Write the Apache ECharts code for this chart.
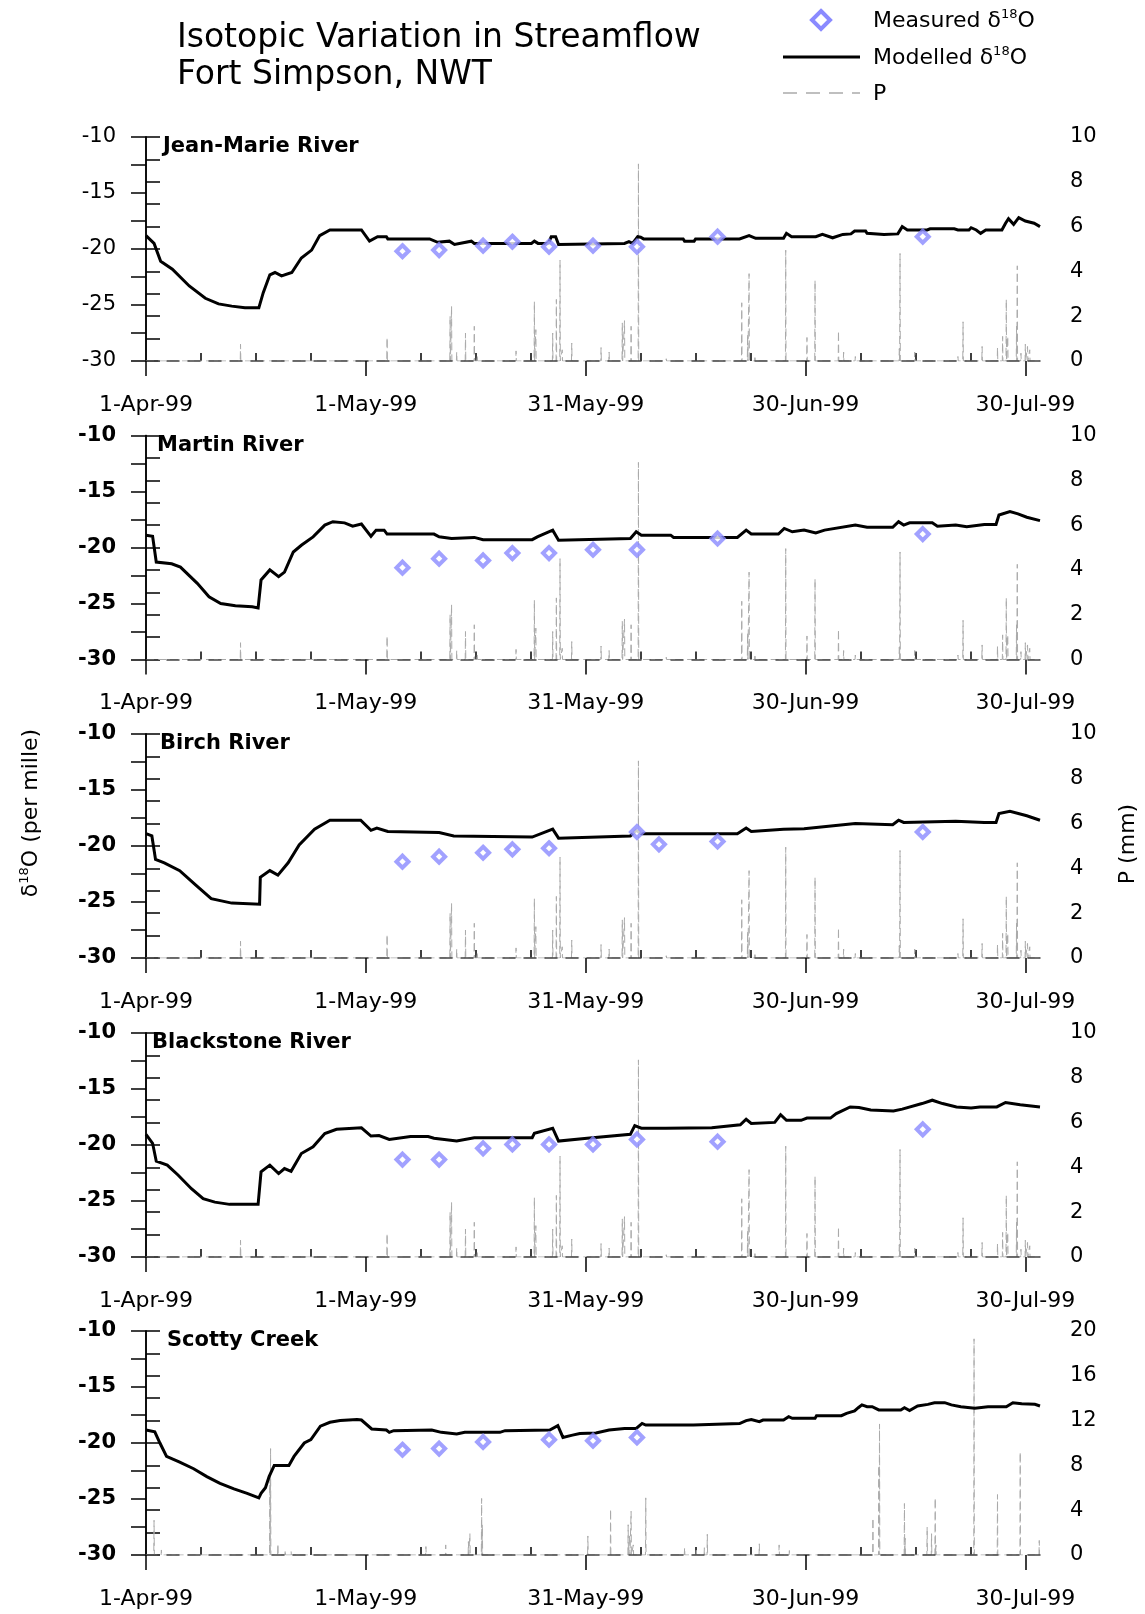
<!DOCTYPE html>
<html>
<head>
<meta charset="utf-8">
<title>Isotopic Variation in Streamflow - Fort Simpson, NWT</title>
<style>
  html, body { margin: 0; padding: 0; background: #ffffff; }
  #chart { width: 1145px; height: 1614px; }
</style>
<script src="https://cdn.jsdelivr.net/npm/echarts@6/dist/echarts.min.js"></script>
</head>
<body>
<div id="chart"></div>
<script>
// ---------- data ----------
// x values are days since 1-Apr-1999
const xMax = 122;
const tickDays = [0, 30, 60, 90, 120];
const tickLabels = ['1-Apr-99', '1-May-99', '31-May-99', '30-Jun-99', '30-Jul-99'];
const minorTickDays = [7.5, 15, 22.5, 37.5, 45, 52.5, 67.5, 75, 82.5, 97.5, 105, 112.5];

const riverNames = ['Jean-Marie River', 'Martin River', 'Birch River', 'Blackstone River', 'Scotty Creek'];

// modelled d18O, [day, per mille]
const jeanMarieModel = [[0,-18.8],[1.1,-19.5],[2.0,-21.1],[3.6,-21.8],[5.9,-23.3],[8.1,-24.4],[9.9,-24.9],[11.7,-25.1],[13.5,-25.25],[15.4,-25.25],[16.0,-23.9],[16.9,-22.3],[17.6,-22.1],[18.5,-22.4],[19.9,-22.1],[21.2,-20.8],[22.6,-20.1],[23.7,-18.8],[25.1,-18.3],[29.4,-18.3],[30.5,-19.3],[31.6,-18.9],[32.8,-18.9],[33.0,-19.1],[38.7,-19.1],[39.8,-19.4],[41.4,-19.3],[42.1,-19.6],[44.4,-19.3],[44.8,-19.5],[52.6,-19.5],[53.0,-19.3],[53.5,-19.5],[54.9,-19.5],[55.3,-18.9],[55.9,-18.9],[56.3,-19.6],[65.3,-19.5],[65.9,-19.35],[66.4,-19.5],[67.1,-18.9],[67.5,-18.95],[67.9,-19.1],[73.3,-19.1],[73.5,-19.3],[74.8,-19.3],[75.0,-19.1],[81.0,-19.1],[82.3,-18.8],[83.2,-19.05],[87.0,-19.05],[87.4,-18.6],[88.1,-18.9],[91.4,-18.9],[92.3,-18.7],[93.7,-19.0],[95.1,-18.7],[96.2,-18.65],[96.7,-18.4],[98.2,-18.4],[98.4,-18.6],[100.7,-18.7],[102.6,-18.65],[103.2,-18.0],[103.9,-18.3],[106.6,-18.3],[107.0,-18.2],[110.3,-18.2],[110.8,-18.3],[112.3,-18.3],[112.6,-18.1],[113.3,-18.3],[113.9,-18.6],[114.6,-18.3],[116.8,-18.3],[117.3,-17.7],[117.7,-17.3],[118.4,-17.8],[119.1,-17.2],[120.0,-17.5],[121.2,-17.7],[122,-18.0]];
const martinModel = [[0,-18.9],[0.9,-19.0],[1.4,-21.3],[3.5,-21.45],[4.7,-21.75],[7.0,-23.2],[8.6,-24.4],[10.2,-25.0],[12.2,-25.2],[14.5,-25.3],[15.3,-25.4],[15.7,-22.9],[16.9,-22.0],[18.1,-22.6],[18.9,-22.2],[20.1,-20.4],[21.2,-19.8],[22.8,-19.05],[24.4,-18.0],[25.5,-17.7],[27.1,-17.8],[28.2,-18.1],[29.4,-17.9],[30.7,-19.0],[31.4,-18.45],[32.5,-18.45],[32.9,-18.8],[39.3,-18.8],[40.0,-19.05],[41.7,-19.2],[44.8,-19.1],[46.0,-19.3],[52.7,-19.3],[53.4,-19.05],[55.5,-18.45],[56.3,-19.35],[66.1,-19.2],[66.9,-18.6],[67.6,-18.9],[71.6,-18.9],[72.0,-19.1],[80.7,-19.1],[81.9,-18.45],[82.6,-18.8],[86.3,-18.8],[87.1,-18.3],[88.2,-18.6],[89.8,-18.45],[91.4,-18.7],[92.6,-18.45],[96.8,-18.0],[98.4,-18.2],[101.9,-18.2],[102.7,-17.7],[103.4,-18.0],[104.2,-17.8],[107.3,-17.8],[108.0,-18.1],[110.5,-18.0],[112.0,-18.15],[114.4,-17.95],[116.0,-17.95],[116.4,-17.1],[117.9,-16.8],[119.0,-17.0],[120.2,-17.3],[122,-17.6]];
const birchModel = [[0,-18.9],[0.8,-19.1],[1.3,-21.2],[2.5,-21.5],[4.6,-22.2],[6.8,-23.5],[8.9,-24.7],[11.7,-25.1],[15.5,-25.2],[15.6,-22.8],[16.9,-22.2],[18.0,-22.6],[19.4,-21.5],[20.9,-19.9],[23.0,-18.5],[25.1,-17.7],[29.3,-17.7],[30.7,-18.6],[31.5,-18.4],[33.0,-18.7],[40.0,-18.8],[42.0,-19.1],[52.7,-19.2],[55.5,-18.5],[56.3,-19.3],[66.1,-19.1],[66.9,-18.6],[67.6,-18.9],[80.7,-18.9],[81.9,-18.4],[82.6,-18.7],[87.0,-18.5],[89.8,-18.45],[96.8,-18.0],[101.9,-18.1],[102.7,-17.7],[103.4,-17.9],[110.5,-17.8],[114.4,-17.9],[116.0,-17.9],[116.4,-17.1],[117.9,-16.9],[120.2,-17.3],[122,-17.7]];
const blackstoneModel = [[0,-19.05],[0.9,-19.85],[1.4,-21.45],[2.9,-21.8],[4.4,-22.7],[6.2,-23.9],[7.8,-24.8],[9.4,-25.1],[11.4,-25.3],[15.3,-25.3],[15.7,-22.4],[16.9,-21.8],[18.1,-22.55],[18.9,-22.1],[19.8,-22.35],[21.2,-20.76],[22.8,-20.16],[24.4,-18.97],[26.0,-18.6],[29.4,-18.46],[30.7,-19.2],[31.8,-19.15],[33.2,-19.5],[36.1,-19.25],[38.5,-19.25],[39.3,-19.4],[42.4,-19.65],[44.8,-19.35],[52.7,-19.35],[53.0,-18.95],[55.5,-18.5],[56.3,-19.65],[60.2,-19.4],[66.1,-19.05],[66.7,-18.27],[67.6,-18.5],[70.9,-18.5],[77.2,-18.45],[81.1,-18.2],[81.9,-17.7],[82.6,-18.07],[85.8,-17.98],[86.6,-17.3],[87.4,-17.8],[89.4,-17.8],[90.2,-17.6],[93.4,-17.6],[94.2,-17.2],[96.1,-16.6],[97.3,-16.65],[98.9,-16.88],[102.0,-16.96],[103.2,-16.8],[105.9,-16.3],[107.3,-16.0],[108.7,-16.3],[110.6,-16.6],[112.6,-16.7],[113.8,-16.6],[116.1,-16.6],[117.3,-16.2],[119.3,-16.4],[122,-16.6]];
const scottyModel = [[0,-18.84],[1.2,-19.0],[1.9,-20.0],[2.8,-21.2],[4.6,-21.7],[6.5,-22.3],[8.3,-23.0],[10.1,-23.6],[12.0,-24.1],[13.8,-24.5],[15.4,-24.9],[15.7,-24.5],[16.3,-24.0],[16.8,-23.0],[17.5,-22.0],[19.5,-22.0],[20.2,-21.2],[21.6,-20.0],[22.5,-19.7],[23.8,-18.5],[25.1,-18.15],[26.5,-18.0],[28.8,-17.9],[29.4,-17.95],[30.8,-18.75],[32.8,-18.84],[33.2,-19.05],[33.8,-18.9],[39.0,-18.84],[40.3,-19.05],[42.4,-19.2],[43.5,-19.05],[48.3,-19.05],[49.0,-18.9],[55.1,-18.84],[56.2,-18.45],[56.9,-19.5],[58.2,-19.3],[59.2,-19.15],[61.4,-19.1],[63.2,-18.84],[65.3,-18.7],[66.9,-18.7],[67.7,-18.25],[68.2,-18.4],[74.7,-18.4],[74.9,-18.3],[81.0,-18.27],[81.9,-18.0],[82.6,-17.9],[83.7,-18.1],[84.2,-17.95],[87.0,-17.95],[87.7,-17.65],[88.2,-17.8],[91.3,-17.8],[91.5,-17.56],[94.9,-17.56],[95.6,-17.35],[96.7,-17.14],[97.2,-16.85],[97.7,-16.6],[98.4,-16.76],[99.1,-16.76],[100.0,-17.05],[103.0,-17.05],[103.5,-16.85],[104.2,-17.1],[105.3,-16.7],[106.7,-16.55],[107.6,-16.4],[109.0,-16.4],[109.9,-16.6],[111.2,-16.76],[113.1,-16.9],[114.9,-16.76],[117.4,-16.76],[118.3,-16.4],[119.5,-16.5],[121.3,-16.55],[122,-16.7]];

// measured d18O, [day, per mille]
const jeanMarieMeasured = [[35,-20.2],[40,-20.1],[46,-19.7],[50,-19.35],[55,-19.8],[61,-19.7],[67,-19.8],[78,-18.9],[106,-18.9]];
const martinMeasured = [[35,-21.8],[40,-21.0],[46,-21.15],[50,-20.5],[55,-20.5],[61,-20.2],[67,-20.2],[78,-19.2],[106,-18.8]];
const birchMeasured = [[35,-21.4],[40,-20.95],[46,-20.6],[50,-20.3],[55,-20.2],[67,-18.75],[70,-19.85],[78,-19.6],[106,-18.75]];
const blackstoneMeasured = [[35,-21.3],[40,-21.3],[46,-20.3],[50,-19.95],[55,-19.95],[61,-19.95],[67,-19.5],[78,-19.7],[106,-18.6]];
const scottyMeasured = [[35,-20.6],[40,-20.5],[46,-19.9],[55,-19.7],[61,-19.8],[67,-19.5]];

// precipitation events, [day, mm]
const fortSimpsonP = [[12.9,0.75],[32.9,1.05],[41.5,2.0],[41.7,2.45],[42.4,0.4],[43.6,1.25],[44.8,1.55],[45.2,0.25],[50.5,0.45],[53.0,2.65],[53.2,1.4],[55.5,1.25],[56.0,2.75],[56.5,4.5],[56.8,0.5],[58.1,0.8],[62.1,0.6],[63.2,0.4],[65.0,1.7],[65.3,1.8],[66.2,1.55],[67.2,8.8],[71.0,0.1],[81.3,2.6],[82.1,1.2],[82.3,3.9],[83.1,0.15],[87.3,4.95],[90.2,1.05],[91.3,3.6],[94.5,1.35],[95.2,0.4],[96.8,0.2],[102.8,0.55],[102.9,4.8],[104.9,0.4],[110.8,0.2],[111.5,1.75],[114.1,0.65],[116.2,0.6],[116.9,1.1],[117.4,2.75],[117.6,1.1],[118.8,1.55],[118.9,4.25],[119.4,0.35],[120.0,0.75],[120.3,0.65],[120.6,0.5]];
const scottyP = [[1.1,3.1],[2.1,0.45],[16.9,7.4],[17.0,9.5],[18.0,1.0],[19.0,0.45],[19.8,0.35],[38.2,0.75],[40.9,0.9],[42.3,0.15],[44.0,1.2],[44.2,1.9],[45.8,5.05],[45.9,2.7],[60.3,1.7],[62.5,0.15],[63.4,4.1],[65.8,2.7],[66.0,1.8],[66.2,3.9],[66.5,0.9],[68.2,5.1],[73.5,0.65],[75.1,0.6],[76.2,0.65],[76.6,1.85],[83.7,1.0],[86.4,0.9],[87.8,0.4],[99.2,3.3],[100.0,8.0],[100.1,11.7],[103.5,4.6],[103.6,1.5],[106.6,2.5],[107.2,1.9],[107.7,5.1],[107.8,0.9],[113.0,19.3],[116.2,5.4],[119.3,9.2],[121.9,1.3]];

// ---------- layout / style ----------
const FONT = 'DejaVu Sans';
const GRID_LEFT = 146, GRID_RIGHT = 105, GRID_H = 224;
const panelTops = [137, 435.5, 734, 1033, 1331];
const nameX = [163, 157, 160, 152, 167];
const MEAS_COLOR = '#8a8aff';
const P_COLOR = '#aaaaaa';

const panels = [
  { model: jeanMarieModel, measured: jeanMarieMeasured, precip: fortSimpsonP, pMax: 10, pStep: 1, pLabelEvery: 2, boldLeft: false },
  { model: martinModel, measured: martinMeasured, precip: fortSimpsonP, pMax: 10, pStep: 1, pLabelEvery: 2, boldLeft: true },
  { model: birchModel, measured: birchMeasured, precip: fortSimpsonP, pMax: 10, pStep: 1, pLabelEvery: 2, boldLeft: true },
  { model: blackstoneModel, measured: blackstoneMeasured, precip: fortSimpsonP, pMax: 10, pStep: 1, pLabelEvery: 2, boldLeft: true },
  { model: scottyModel, measured: scottyMeasured, precip: scottyP, pMax: 20, pStep: 2, pLabelEvery: 4, boldLeft: true }
];

// each rain event becomes a thin spike rising from the zero baseline
function spikeLine(events) {
  const pts = [[0, 0]];
  events.forEach(([d, v]) => { pts.push([d - 0.04, 0], [d, v], [d + 0.04, 0]); });
  pts.push([xMax, 0]);
  return pts;
}

const grid = [], xAxis = [], yAxis = [], series = [], graphic = [];

panels.forEach((p, i) => {
  grid.push({ left: GRID_LEFT, right: GRID_RIGHT, top: panelTops[i], height: GRID_H, containLabel: false });

  // major ticks with dates
  xAxis.push({
    type: 'value', gridIndex: i, min: 0, max: xMax, z: 3,
    axisLine: { show: true, onZero: false, lineStyle: { color: '#444', width: 1.5, type: [12, 9] } },
    axisTick: { show: true, length: 15, customValues: tickDays, lineStyle: { color: '#000', width: 1.5 } },
    axisLabel: {
      show: true, customValues: tickDays, margin: 33,
      color: '#000', fontFamily: FONT, fontSize: 22,
      formatter: v => { const k = tickDays.indexOf(v); return k >= 0 ? tickLabels[k] : ''; }
    },
    splitLine: { show: false }
  });
  // minor ticks
  xAxis.push({
    type: 'value', gridIndex: i, min: 0, max: xMax,
    axisLine: { show: false },
    axisTick: { show: true, length: 8, customValues: minorTickDays, lineStyle: { color: '#000', width: 1.5 } },
    axisLabel: { show: false },
    splitLine: { show: false }
  });

  yAxis.push({
    type: 'value', gridIndex: i, min: -30, max: -10, interval: 2.5, position: 'left',
    axisLine: { show: true, lineStyle: { color: '#000', width: 1.5 } },
    axisTick: { show: true, length: 15, lineStyle: { color: '#000', width: 1.5 } },
    axisLabel: {
      margin: 30, color: '#000', fontFamily: FONT, fontSize: 21,
      fontWeight: p.boldLeft ? 'bold' : 'normal',
      formatter: v => (v % 5 === 0 ? String(v) : '')
    },
    splitLine: { show: false }
  });
  yAxis.push({
    type: 'value', gridIndex: i, min: 0, max: p.pMax, interval: p.pStep, position: 'right',
    axisLine: { show: true, lineStyle: { color: '#000', width: 1.5 } },
    axisTick: { show: true, length: 14, lineStyle: { color: '#000', width: 1.5 } },
    axisLabel: {
      margin: 30, color: '#000', fontFamily: FONT, fontSize: 21,
      formatter: v => (v % p.pLabelEvery === 0 ? String(v) : '')
    },
    splitLine: { show: false }
  });

  series.push({
    name: 'P', type: 'line', xAxisIndex: 2 * i, yAxisIndex: 2 * i + 1,
    data: spikeLine(p.precip), symbol: 'none', z: 1, silent: true,
    lineStyle: { color: P_COLOR, width: 1, type: [8, 4] }
  });
  series.push({
    name: 'Modelled', type: 'line', xAxisIndex: 2 * i, yAxisIndex: 2 * i,
    data: p.model, symbol: 'none', z: 2,
    lineStyle: { color: '#000', width: 3, join: 'miter' }
  });
  series.push({
    name: 'Measured', type: 'scatter', xAxisIndex: 2 * i, yAxisIndex: 2 * i,
    data: p.measured, symbol: 'diamond', symbolSize: 12, z: 4,
    itemStyle: { color: '#ffffff', borderColor: MEAS_COLOR, borderWidth: 4 }
  });

  graphic.push({
    type: 'text', x: nameX[i], y: panelTops[i] + 10,
    style: { text: riverNames[i], fontFamily: FONT, fontSize: 21, fontWeight: 'bold', fill: '#000', align: 'left', verticalAlign: 'middle' }
  });
});

const supRich = (size) => ({
  a: { fontFamily: FONT, fontSize: size, fill: '#000', lineHeight: size + 4 },
  s: { fontFamily: FONT, fontSize: Math.round(size * 0.6), fill: '#000', verticalAlign: 'top', lineHeight: Math.round(size * 0.6) }
});

// title
graphic.push(
  { type: 'text', x: 177, y: 38, style: { text: 'Isotopic Variation in Streamflow', fontFamily: FONT, fontSize: 33, fill: '#000', verticalAlign: 'middle' } },
  { type: 'text', x: 177, y: 75, style: { text: 'Fort Simpson, NWT', fontFamily: FONT, fontSize: 33, fill: '#000', verticalAlign: 'middle' } }
);

// legend
graphic.push(
  { type: 'polygon', shape: { points: [[821, 11], [830, 20], [821, 29], [812, 20]] },
    style: { fill: '#fff', stroke: MEAS_COLOR, lineWidth: 4 } },
  { type: 'text', x: 873, y: 21, style: { text: '{a|Measured δ}{s|18}{a|O}', rich: supRich(22), verticalAlign: 'middle' } },
  { type: 'line', shape: { x1: 783, y1: 57, x2: 860, y2: 57 }, style: { stroke: '#000', lineWidth: 3 } },
  { type: 'text', x: 873, y: 58, style: { text: '{a|Modelled δ}{s|18}{a|O}', rich: supRich(22), verticalAlign: 'middle' } },
  { type: 'line', shape: { x1: 783, y1: 93, x2: 860, y2: 93 }, style: { stroke: P_COLOR, lineWidth: 1.5, lineDash: [14, 9] } },
  { type: 'text', x: 873, y: 94, style: { text: 'P', fontFamily: FONT, fontSize: 22, fill: '#000', verticalAlign: 'middle' } }
);

// axis titles
graphic.push(
  { type: 'text', x: 31, y: 813, rotation: Math.PI / 2,
    style: { text: '{a|δ}{s|18}{a|O (per mille)}', rich: supRich(22), align: 'center', verticalAlign: 'middle' } },
  { type: 'text', x: 1128, y: 844, rotation: Math.PI / 2,
    style: { text: 'P (mm)', fontFamily: FONT, fontSize: 22, fill: '#000', align: 'center', verticalAlign: 'middle' } }
);

const chart = echarts.init(document.getElementById('chart'), null, { renderer: 'canvas' });
chart.setOption({
  backgroundColor: '#ffffff',
  animation: false,
  grid, xAxis, yAxis, series, graphic
});
</script>
</body>
</html>
